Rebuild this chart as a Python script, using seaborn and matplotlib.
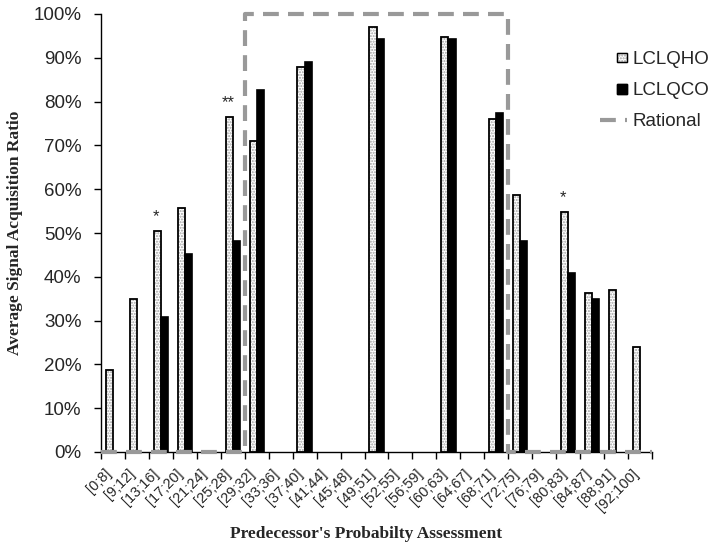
import numpy as np
import pandas as pd
import matplotlib
matplotlib.use("Agg")
import matplotlib.pyplot as plt
import matplotlib.transforms as mtransforms
from matplotlib.patches import Rectangle, Patch
from matplotlib.lines import Line2D
from matplotlib.legend_handler import HandlerPatch
import seaborn as sns

categories = ["[0;8]", "[9;12]", "[13;16]", "[17;20]", "[21;24]", "[25;28]",
              "[29;32]", "[33;36]", "[37;40]", "[41;44]", "[45;48]", "[49;51]",
              "[52;55]", "[56;59]", "[60;63]", "[64;67]", "[68;71]", "[72;75]",
              "[76;79]", "[80;83]", "[84;87]", "[88;91]", "[92;100]"]
nan = np.nan
lclqho = [0.187, 0.349, 0.505, 0.556, nan, 0.765, 0.711, nan, 0.880, nan, nan, 0.971,
          nan, nan, 0.947, nan, 0.760, 0.587, nan, 0.547, 0.362, 0.369, 0.239]
lclqco = [nan, nan, 0.309, 0.451, nan, 0.482, 0.827, nan, 0.890, nan, nan, 0.944,
          nan, nan, 0.942, nan, 0.774, 0.482, nan, 0.409, 0.349, nan, nan]
rational = [0, 0, 0, 0, 0, 0, 1, 1, 1, 1, 1, 1, 1, 1, 1, 1, 1, 0, 0, 0, 0, 0, 0]
stars = {"[13;16]": "*", "[25;28]": "**", "[80;83]": "*"}
yticks = [0, 0.1, 0.2, 0.3, 0.4, 0.5, 0.6, 0.7, 0.8, 0.9, 1.0]
series = ["LCLQHO", "LCLQCO"]

sns.set_style("white")
plt.rcParams["font.family"] = ["Liberation Sans", "DejaVu Sans"]

df = pd.DataFrame({
    "cat": categories * 2,
    "series": ["LCLQHO"] * len(categories) + ["LCLQCO"] * len(categories),
    "value": lclqho + lclqco,
}).dropna()

fig = plt.figure(figsize=(7.2, 5.46), dpi=100)
ax = fig.add_axes([101 / 720, 1 - 452 / 546, 551 / 720, 438 / 546])

sns.barplot(data=df, x="cat", y="value", hue="series", order=categories,
            hue_order=series, palette={"LCLQHO": "white", "LCLQCO": "black"},
            width=0.6, edgecolor="black", linewidth=1.2, saturation=1,
            errorbar=None, legend=False, ax=ax)

# dotted texture on LCLQHO bars
ho_container = ax.containers[0]
for p in ho_container:
    if np.isnan(p.get_height()):
        continue
    p.set_hatch("......")
    p.set_edgecolor("#a0a0a0")
    p.set_linewidth(0)
    ax.add_patch(Rectangle((p.get_x(), p.get_y()), p.get_width(), p.get_height(),
                           fill=False, edgecolor="black", linewidth=1.3, zorder=2.2))

# significance stars (match bars to categories by position)
for p in ho_container:
    idx = int(round(p.get_x() + 0.3))
    cat = categories[idx]
    if cat in stars:
        ax.annotate(stars[cat], (p.get_x() + p.get_width() / 2 - 0.05, lclqho[idx]),
                    xytext=(0, 5), textcoords="offset points",
                    ha="center", va="bottom", fontsize=12)

# rational step line
x = np.arange(len(categories))
xe = np.concatenate([[-0.5], x, [len(categories) - 0.5]])
ye = np.concatenate([[rational[0]], rational, [rational[-1]]])
ax.step(xe, ye, where="mid", color="#999999", linewidth=3,
        linestyle=(0, (3.8, 2.2)), clip_on=False, zorder=3)

ax.set_xlim(-0.5, len(categories) - 0.5)
ax.set_ylim(0, 1)
ax.set_yticks(yticks)
ax.set_yticklabels([f"{int(round(t * 100))}%" for t in yticks], fontsize=13.5)

sns.despine(ax=ax)
for s in ["left", "bottom"]:
    ax.spines[s].set_color("black")
    ax.spines[s].set_linewidth(1)

ax.tick_params(axis="y", direction="out", length=5, width=1, color="black", pad=9, left=True)
ax.set_xticks(x)
ax.set_xticks(np.arange(len(categories) + 1) - 0.5, minor=True)
ax.tick_params(axis="x", which="major", length=0, pad=14)
ax.tick_params(axis="x", which="minor", direction="out", length=5, width=1,
               color="black", bottom=True)
ax.set_xticklabels(categories, rotation=45, ha="right", va="center",
                   rotation_mode="anchor", fontsize=10.5)
offset = mtransforms.ScaledTranslation(-4 / 100, 0, fig.dpi_scale_trans)
for lab in ax.get_xticklabels():
    lab.set_transform(lab.get_transform() + offset)

ax.set_xlabel("Predecessor's Probabilty Assessment", fontsize=12.5, fontweight="bold",
              family=["Liberation Serif", "DejaVu Serif"])
ax.xaxis.set_label_coords(0.481, -0.169)
ax.set_ylabel("Average Signal Acquisition Ratio", fontsize=12.5, fontweight="bold",
              family=["Liberation Serif", "DejaVu Serif"])
ax.yaxis.set_label_coords(-0.142, 0.5)

# legend
def square(legend, orig_handle, xdescent, ydescent, width, height, fontsize):
    s = height * 0.75
    return Rectangle((width - s - xdescent, (height - s) / 2 - ydescent), s, s)

ho_handle = Patch(facecolor="white", edgecolor="#a0a0a0", hatch="......", linewidth=1)
co_handle = Patch(facecolor="black", edgecolor="black")
ra_handle = Line2D([], [], color="#999999", linewidth=3, linestyle=(0, (3.8, 2.2)))

class OutlinedSquare(HandlerPatch):
    def create_artists(self, legend, orig_handle, xdescent, ydescent, width, height,
                       fontsize, trans):
        arts = super().create_artists(legend, orig_handle, xdescent, ydescent, width,
                                      height, fontsize, trans)
        s = height * 0.75
        r = Rectangle((width - s - xdescent, (height - s) / 2 - ydescent), s, s,
                      fill=False, edgecolor="black", linewidth=1, transform=trans)
        return arts + [r]

leg = fig.legend([ho_handle, co_handle, ra_handle], ["LCLQHO", "LCLQCO", "Rational"],
                 loc="upper left", bbox_to_anchor=(600 / 720, 1 - 51 / 546),
                 frameon=False, fontsize=13.5, handlelength=1.45, handletextpad=0.3,
                 labelspacing=0.75, borderpad=0, borderaxespad=0,
                 handler_map={Patch: OutlinedSquare(patch_func=square)})

fig.savefig("out.png", dpi=100)
